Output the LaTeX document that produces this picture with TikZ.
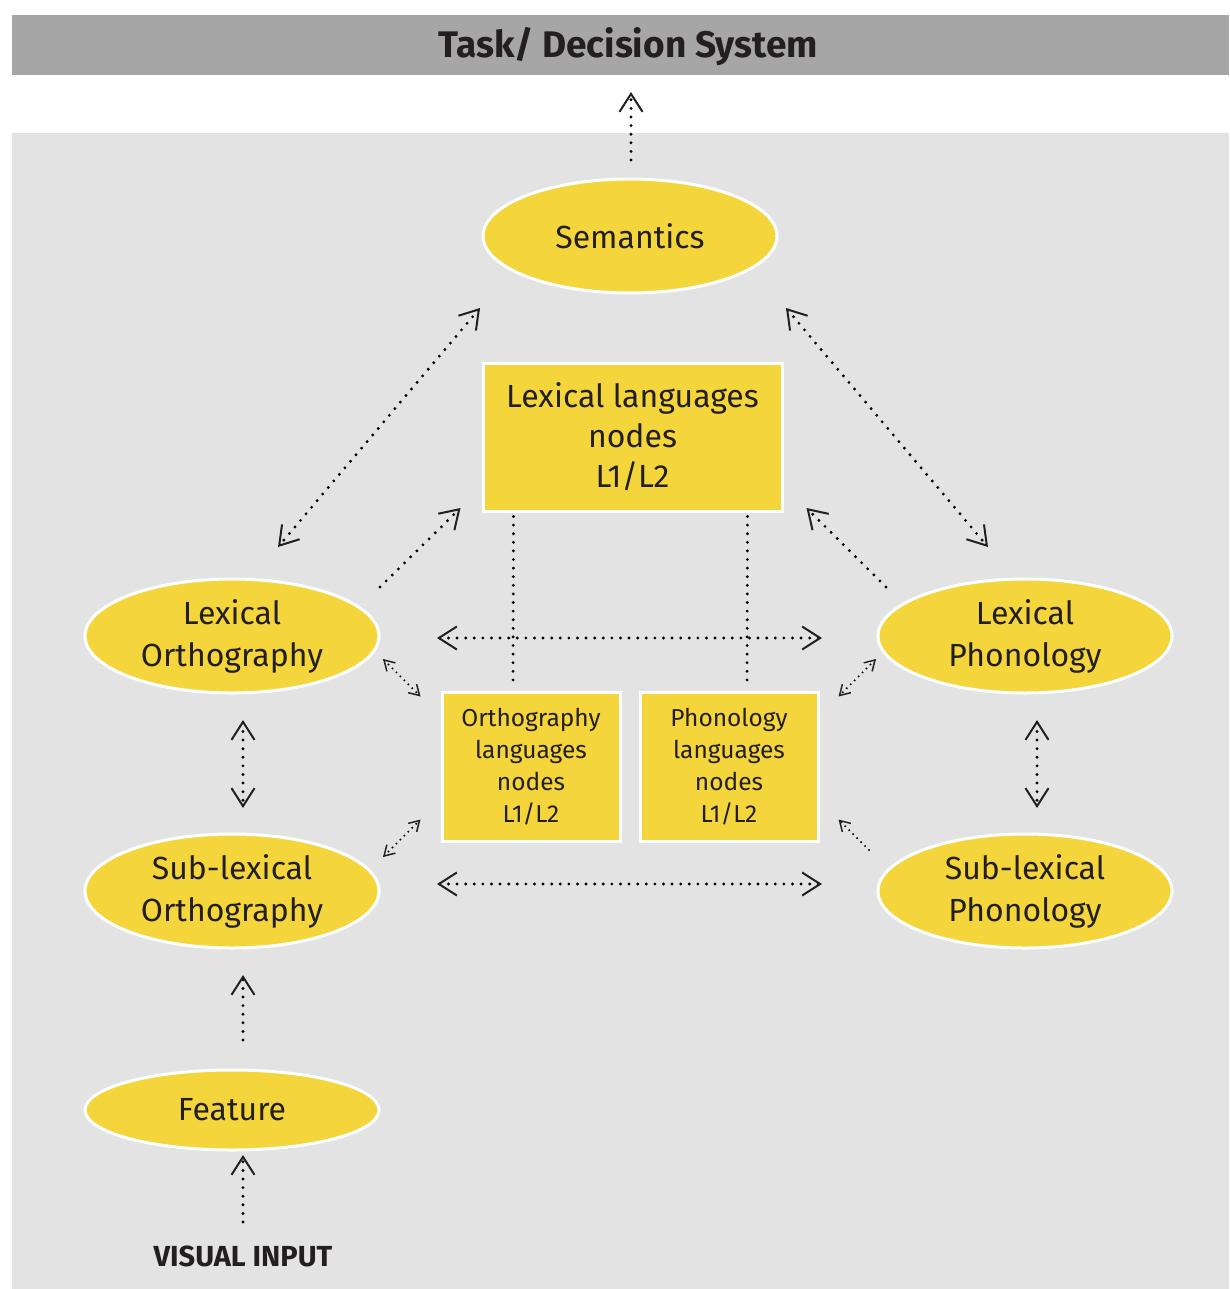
\documentclass[tikz,border=0pt]{standalone}
\usepackage{fontspec}
\setmainfont{Fira Sans}
\usetikzlibrary{shapes.geometric,arrows.meta,calc}
\definecolor{ylw}{HTML}{F4D63C}
\definecolor{ink}{HTML}{231F20}
\definecolor{panel}{HTML}{E3E3E3}
\definecolor{bar}{HTML}{A6A6A6}
\begin{document}
\begin{tikzpicture}[x=1pt,y=-1pt,
  blob/.style={ellipse, fill=ylw, draw=white, line width=3pt, minimum width=294pt,
    minimum height=114pt, inner sep=0pt, align=center, text=ink,
    font=\fontsize{32}{42}\selectfont},
  card/.style={rectangle, fill=ylw, draw=white, line width=3pt, inner sep=0pt,
    align=center, text=ink},
  link/.style={draw=black, line width=3.2pt, line cap=round,
    dash pattern=on 0pt off 8.6pt},
  smalllink/.style={draw=black, line width=2.2pt, line cap=round,
    dash pattern=on 0pt off 5.6pt},
  bigtip/.style={arrows={<->}, >={Straight Barb[length=18pt,width=23pt,line width=2pt,color=ink]}},
  bigup/.style={arrows={->}, >={Straight Barb[length=18pt,width=23pt,line width=2pt,color=ink]}},
  smalltip/.style={arrows={<->}, >={Straight Barb[length=10pt,width=12pt,line width=1.5pt,color=ink]}},
  smallup/.style={arrows={->}, >={Straight Barb[length=10pt,width=12pt,line width=1.5pt,color=ink]}}
]
\useasboundingbox (0,0) rectangle (1229,1289);
\fill[white] (0,0) rectangle (1229,1289);
\fill[panel] (12,133) rectangle (1229,1289);
\fill[bar] (12,15) rectangle (1229,75);
\node[text=ink, font=\fontsize{37}{44}\selectfont\bfseries] (task) at (628,47) {Task/ Decision System};

% central nodes
\node[blob] (sem) at (630,236) {Semantics};
\node[card, minimum width=299pt, minimum height=148pt, font=\fontsize{32}{40}\selectfont]
  (lex) at (632.5,437) {Lexical languages\\nodes\\L1/L2};

% left column
\node[blob] (lo) at (232,636) {Lexical\\Orthography};
\node[blob] (so) at (232,891) {Sub-lexical\\Orthography};
\node[blob, minimum height=80pt] (feat) at (232,1110) {Feature};
\node[text=ink, font=\fontsize{29}{34}\selectfont\bfseries] (vis) at (243,1256) {VISUAL INPUT};

% right column
\node[blob] (lp) at (1025,636) {Lexical\\Phonology};
\node[blob] (sp) at (1025,891) {Sub-lexical\\Phonology};

% language node boxes
\node[card, minimum width=178pt, minimum height=149pt, font=\fontsize{24.5}{32}\selectfont]
  (ob) at (531,766.5) {Orthography\\languages\\nodes\\L1/L2};
\node[card, minimum width=178pt, minimum height=149pt, font=\fontsize{24.5}{32}\selectfont]
  (pb) at (729,766.5) {Phonology\\languages\\nodes\\L1/L2};

% large connectors
\draw[link, bigup] ($(sem)+(1,-76)$) -- ($(sem)+(1,-144)$);
\draw[link, bigtip] ($(sem)+(-150,72)$) -- ($(lo)+(46,-89)$);
\draw[link, bigtip] ($(sem)+(156,72)$) -- ($(lp)+(-37,-89)$);
\draw[link, bigup] ($(lo)+(148,-49)$) -- ($(lex)+(-172,71)$);
\draw[link, bigup] ($(lp)+(-139,-49)$) -- ($(lex)+(174,71)$);
\draw[link, bigtip] ($(lo)+(205,2)$) -- ($(lp)+(-203,2)$);
\draw[link, bigtip] ($(so)+(205,-7)$) -- ($(sp)+(-203,-7)$);
\draw[link, bigtip] ($(lo)+(11,84)$) -- ($(so)+(11,-83)$);
\draw[link, bigtip] ($(lp)+(12,84)$) -- ($(sp)+(12,-83)$);
\draw[link, bigup] ($(feat)+(11,-70)$) -- ($(so)+(11,84)$);
\draw[link, bigup] ($(vis)+(0,-34)$) -- ($(feat)+(11,45)$);

% plain dotted ties from the lexical node box
\draw[link] ($(lex.south)+(-119,4)$) -- ($(ob.north)+(-18,-4)$);
\draw[link] ($(lex.south)+(115,4)$) -- ($(pb.north)+(18,-4)$);

% small connectors
\draw[smalllink, smalltip] ($(lo)+(151,23)$) -- ($(ob.north west)+(-20,6)$);
\draw[smalllink, smalltip] ($(so)+(151,-34)$) -- ($(ob.south west)+(-20,-23)$);
\draw[smalllink, smalltip] ($(lp)+(-149,23)$) -- ($(pb.north east)+(19,6)$);
\draw[smalllink, smallup] ($(sp)+(-156,-41)$) -- ($(pb.south east)+(19,-23)$);
\end{tikzpicture}
\end{document}
